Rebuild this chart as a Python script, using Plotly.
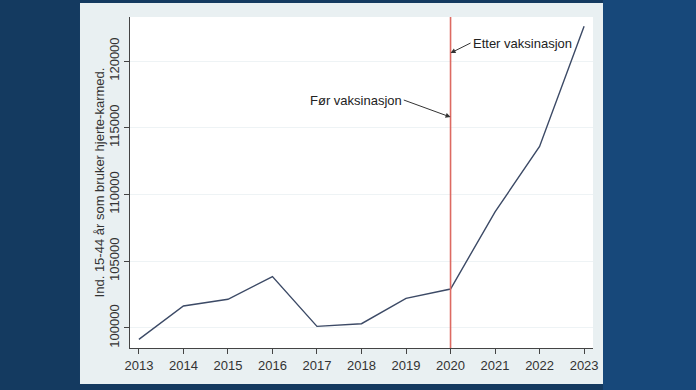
import plotly.graph_objects as go

years = [2013, 2014, 2015, 2016, 2017, 2018, 2019, 2020, 2021, 2022, 2023]
users = [99150, 101650, 102150, 103850, 100120, 100320, 102220, 102920, 108700, 113600, 122600]
y_ticks = [100000, 105000, 110000, 115000, 120000]
y_tick_labels = ["100000", "105000", "110000", "115000", "120000"]
vax_year = 2020
y_title = "Ind. 15-44 år som bruker hjerte-karmed."
label_after = "Etter vaksinasjon"
label_before = "Før vaksinasjon"

FONT = "Liberation Sans, Arial, sans-serif"
fig = go.Figure()
fig.add_trace(go.Scatter(x=years, y=users, mode="lines",
                         line=dict(color="#3c4a66", width=1.4),
                         hoverinfo="skip", showlegend=False))

fig.add_shape(type="line", xref="x", yref="paper", x0=vax_year, x1=vax_year,
              y0=0, y1=1, line=dict(color="#dd6a62", width=1.6), layer="above")

# background tone variation (right side lighter blue)
fig.add_shape(type="rect", xref="paper", yref="paper",
              x0=1.0216, x1=1.23, y0=-0.13, y1=1.06,
              fillcolor="#17487a", line=dict(width=0), layer="below")
# panel and white plot area
fig.add_shape(type="rect", xref="paper", yref="paper",
              x0=-0.108, x1=1.0216, y0=-0.109, y1=1.0423,
              fillcolor="#e9f0f2", line=dict(width=0), layer="below")
fig.add_shape(type="rect", xref="paper", yref="paper",
              x0=0, x1=1, y0=0, y1=1,
              fillcolor="white", line=dict(width=0), layer="below")

fig.add_annotation(x=vax_year, y=120600, xref="x", yref="y",
                   ax=2020.45, ay=121350, axref="x", ayref="y",
                   text=label_after, showarrow=True, arrowhead=2, arrowsize=1,
                   arrowwidth=1, arrowcolor="#333", xanchor="left",
                   font=dict(family=FONT, size=13, color="#222"))
fig.add_annotation(x=vax_year, y=115800, xref="x", yref="y",
                   ax=2018.95, ay=117080, axref="x", ayref="y",
                   text=label_before, showarrow=True, arrowhead=2, arrowsize=1,
                   arrowwidth=1, arrowcolor="#333", xanchor="right",
                   font=dict(family=FONT, size=13, color="#222"))

fig.add_annotation(x=-0.065, y=0.5, xref="paper", yref="paper",
                   text=y_title, textangle=-90, showarrow=False,
                   xanchor="center", yanchor="middle",
                   font=dict(family=FONT, size=13, color="#333"))

fig.update_layout(
    width=696, height=390,
    margin=dict(l=130, r=103, t=17, b=42),
    paper_bgcolor="#143a60",
    plot_bgcolor="white",
    font=dict(family=FONT, size=13, color="#333"),
    xaxis=dict(range=[2012.8, 2023.2], tickvals=years, ticks="outside",
               ticklen=5, tickcolor="#444", showline=True, linecolor="#444",
               linewidth=1, showgrid=False, zeroline=False, automargin=False,
               tickfont=dict(family=FONT, size=13, color="#333")),
    yaxis=dict(range=[98500, 123300], tickvals=y_ticks, ticktext=y_tick_labels,
               ticks="outside", automargin=False,
               ticklen=5, tickcolor="#444", showline=True, linecolor="#444",
               linewidth=1, showgrid=True, gridcolor="#eef3f5", zeroline=False,
               tickangle=-90, tickfont=dict(family=FONT, size=13, color="#333")),
)
fig.write_html("out.html", config={"displayModeBar": False},
               post_script="document.body.style.margin='0';document.body.style.background='#143a60';")
